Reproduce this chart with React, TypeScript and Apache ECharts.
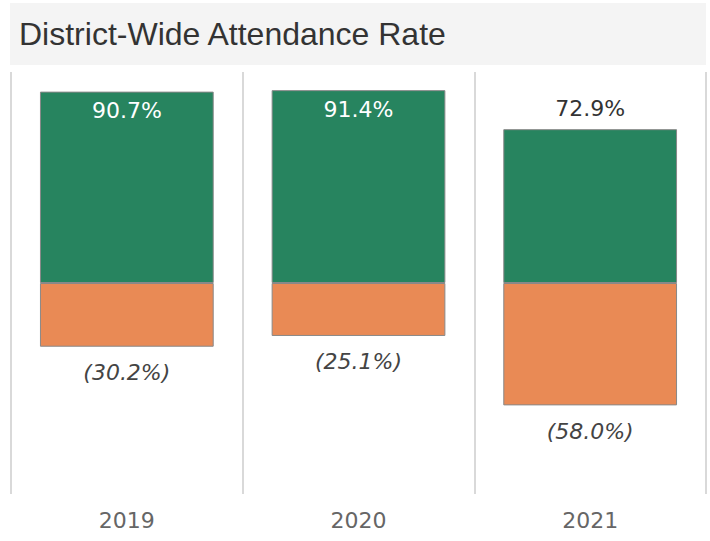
import React, { useEffect, useRef } from "react";
import * as echarts from "echarts";

const years = ["2019", "2020", "2021"];
const attendanceRate = [90.7, 91.4, 72.9];
const chronicAbsence = [30.2, 25.1, 58.0];
const titleText = "District-Wide Attendance Rate";

const GREEN = "#27845f";
const ORANGE = "#e98a55";

export default function App() {
  const ref = useRef<HTMLDivElement>(null);
  useEffect(() => {
    if (!ref.current) return;
    const chart = echarts.init(ref.current, null, { renderer: "svg" });
    const font = "DejaVu Sans";
    chart.setOption({
      animation: false,
      backgroundColor: "#ffffff",
      title: {
        text: titleText,
        left: 14,
        top: 13,
        textStyle: {
          fontFamily: "Liberation Sans",
          fontSize: 32,
          fontWeight: "normal",
          color: "#333333",
        },
      },
      graphic: [
        {
          type: "rect",
          z: -10,
          shape: { x: 10, y: 3, width: 696, height: 62 },
          style: { fill: "#f4f4f4" },
        },
      ],
      grid: { left: 11, right: 4, top: 72, bottom: 47 },
      xAxis: {
        type: "category",
        data: years,
        boundaryGap: true,
        axisLine: { show: false },
        axisTick: { show: false },
        axisLabel: {
          margin: 15,
          fontFamily: font,
          fontSize: 22,
          color: "#666666",
        },
        splitLine: {
          show: true,
          lineStyle: { color: "#d9d9d9", width: 2 },
        },
      },
      yAxis: {
        type: "value",
        min: -100,
        max: 100,
        show: false,
        splitLine: { show: false },
      },
      series: [
        {
          type: "bar",
          name: "Attendance Rate",
          barWidth: "75%",
          barGap: "-100%",
          data: attendanceRate.map((v) => {
            const inside = v > 80;
            return {
              value: v,
              label: {
                show: true,
                position: inside ? "insideTop" : "top",
                distance: inside ? 8 : 10,
                color: inside ? "#ffffff" : "#333333",
                fontFamily: font,
                fontSize: 22,
                formatter: (p: any) => `${Number(p.value).toFixed(1)}%`,
              },
            };
          }),
          itemStyle: { color: GREEN, borderColor: "#888888", borderWidth: 1 },
        },
        {
          type: "bar",
          name: "Chronic Absence",
          barWidth: "75%",
          data: chronicAbsence.map((v) => -v),
          itemStyle: { color: ORANGE, borderColor: "#888888", borderWidth: 1 },
          label: {
            show: true,
            position: "bottom",
            distance: 15,
            color: "#444444",
            fontFamily: font,
            fontStyle: "italic",
            fontSize: 22,
            formatter: (p: any) => `(${Math.abs(Number(p.value)).toFixed(1)}%)`,
          },
        },
      ],
    });
    return () => chart.dispose();
  }, []);
  return (
    <div
      ref={ref}
      style={{ position: "fixed", left: 0, top: 0, width: 710, height: 541 }}
    />
  );
}
